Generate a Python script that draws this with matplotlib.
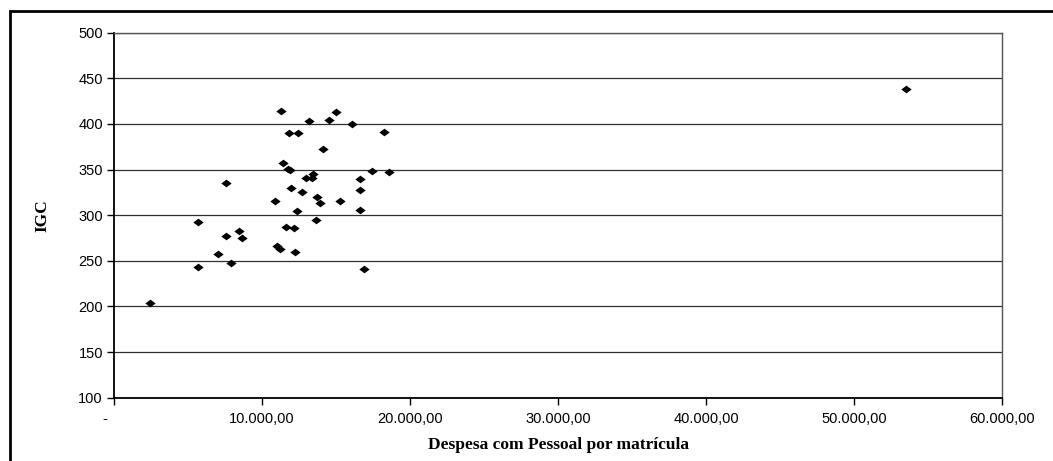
import matplotlib
matplotlib.use("Agg")
import matplotlib.pyplot as plt
from matplotlib.patches import Rectangle
from matplotlib.ticker import FixedLocator

despesa = [11300, 15000, 13200, 14500, 16050, 11800, 12450, 18250, 14100, 11400,
           11780, 11900, 17430, 18550, 13450, 12950, 13400, 16600, 7580, 11950,
           12700, 16600, 13700, 13950, 15250, 10850, 12350, 16600, 13650, 5670,
           11600, 12150, 8440, 7600, 8640, 11000, 11200, 12250, 7040, 7880,
           5670, 16870, 2450, 53500]
igc = [414, 413, 403, 404, 400, 389.7, 389.7, 391, 372.5, 357,
       351, 349.5, 348.6, 347.3, 345, 340.4, 340.4, 339.3, 335, 329.8,
       325.4, 327.6, 320.3, 313.8, 316, 315.2, 304.6, 305.7, 295, 293,
       286.7, 285.6, 282.3, 277.2, 275, 266.3, 263.3, 259.3, 257.2, 247.6,
       243.4, 240.8, 204, 438.3]

x_ticks = [0, 10000, 20000, 30000, 40000, 50000, 60000]
x_ticklabels = ["-    ", "10.000,00", "20.000,00", "30.000,00", "40.000,00", "50.000,00", "60.000,00"]
y_ticks = [100, 150, 200, 250, 300, 350, 400, 450, 500]

W, H = 1053, 461
fig = plt.figure(figsize=(W / 100, H / 100), dpi=100)
fig.patch.set_facecolor("white")

# outer chart frame (clipped at right/bottom like the reference)
frame = Rectangle((10 / W, -0.2), 1.2, 1 - 11 / H + 0.2, transform=fig.transFigure,
                  fill=False, edgecolor="black", linewidth=2.0, clip_on=False)
fig.patches.append(frame)

ax = fig.add_axes([114 / W, 1 - 397.7 / H, (1002 - 114) / W, (397.7 - 32.7) / H])
ax.set_xlim(0, 60000)
ax.set_ylim(100, 500)

ax.yaxis.set_major_locator(FixedLocator(y_ticks))
ax.xaxis.set_major_locator(FixedLocator(x_ticks))
ax.set_xticklabels(x_ticklabels)
ax.grid(axis="y", color="#303030", linewidth=0.9)
ax.set_axisbelow(True)

diamond = [(-1, 0), (0, 0.75), (1, 0), (0, -0.75), (-1, 0)]
ax.scatter(despesa, igc, marker=diamond, s=55, color="black", linewidths=0, zorder=3)

for side in ["top", "right"]:
    ax.spines[side].set_color("#555555")
    ax.spines[side].set_linewidth(1.0)
for side in ["left", "bottom"]:
    ax.spines[side].set_color("black")
    ax.spines[side].set_linewidth(1.3)

ax.tick_params(axis="both", direction="out", length=5, width=1, color="black",
               labelsize=10.5, labelcolor="black")
ax.tick_params(axis="y", pad=3)
ax.tick_params(axis="x", pad=5)
for lbl in ax.get_xticklabels() + ax.get_yticklabels():
    lbl.set_family(["Liberation Sans", "DejaVu Sans"])

ax.set_xlabel("Despesa com Pessoal por matrícula", family=["Liberation Serif", "DejaVu Serif"],
              fontweight="bold", fontsize=12.5, labelpad=8)
ax.set_ylabel("IGC", family=["Liberation Serif", "DejaVu Serif"],
              fontweight="bold", fontsize=12.5, labelpad=20)

fig.savefig("out.png", dpi=100, facecolor="white")
